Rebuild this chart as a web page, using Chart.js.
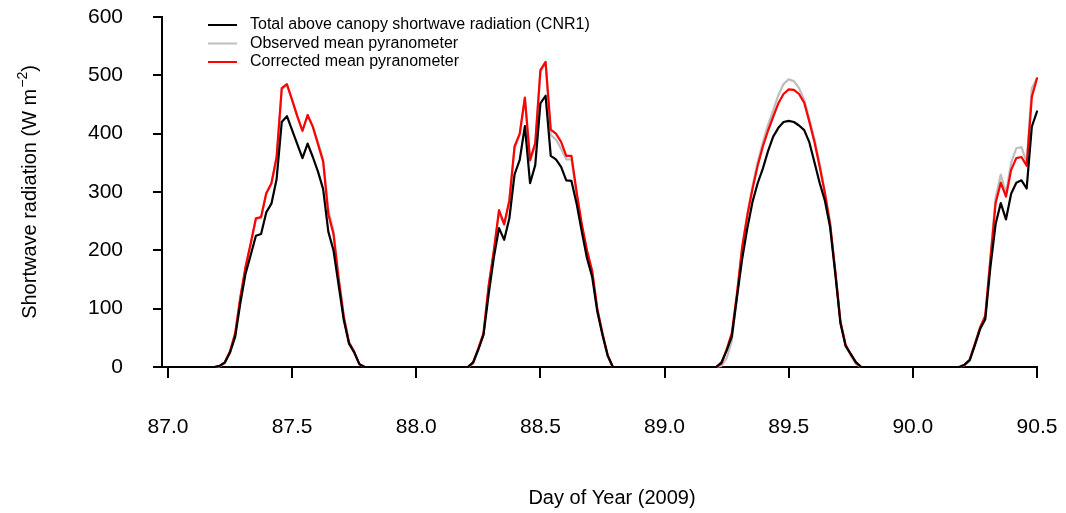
<!DOCTYPE html>
<html>
<head>
<meta charset="utf-8">
<script src="https://cdn.jsdelivr.net/npm/chart.js@4.4.1/dist/chart.umd.min.js"></script>
<style>
  html, body { margin: 0; padding: 0; background: #fff; }
  canvas { display: block; }
</style>
</head>
<body>
<canvas id="radChart" width="1066" height="513"></canvas>
<script>
const FONT = "'Liberation Sans', Arial, sans-serif";

// half-hourly shortwave radiation, W m-2, one row per day (DOY 87 .. 90.5)
const cnr1 = [
  0,0,0,0,0,0,0,0,0,0, 2,8,25,52,110,160,192,225,228,265,280,322,420,430,406,382,358,383,360,335,305,232,200,140,80,40,25,5, 0,0,0,0,0,0,0,0,0,0,
  0,0,0,0,0,0,0,0,0,0,0, 8,30,55,125,188,238,218,255,330,355,413,315,346,452,465,362,356,343,320,319,280,232,187,155,95,55,20, 0,0,0,0,0,0,0,0,0,0,
  0,0,0,0,0,0,0,0,0,0,0, 8,28,52,120,185,238,283,315,340,370,395,410,420,422,420,414,406,385,350,315,285,240,160,75,36,22,8, 0,0,0,0,0,0,0,0,0,0,
  0,0,0,0,0,0,0,0,0,0, 4,12,38,65,82,172,245,281,253,297,316,320,306,412,438
];

const pyrObserved = [
  0,0,0,0,0,0,0,0,0,0, 1,6,25,57,118,170,210,253,256,296,314,358,476,483,457,429,404,431,412,385,356,270,234,156,88,43,26,5, 0,0,0,0,0,0,0,0,0,0,
  0,0,0,0,0,0,0,0,0,0,0, 6,30,56,138,198,265,243,283,375,398,460,352,380,505,522,398,390,374,356,356,296,242,198,163,98,56,18, 0,0,0,0,0,0,0,0,0,0,
  0,0,0,0,0,0,0,0,0,0,0, 2,15,45,120,205,262,310,352,385,415,440,466,485,493,490,478,458,425,390,348,300,248,165,78,36,20,5, 0,0,0,0,0,0,0,0,0,0,
  0,0,0,0,0,0,0,0,0,0, 3,10,37,66,86,190,290,330,298,350,375,377,350,478,495
];

const pyrCorrected = [
  0,0,0,0,0,0,0,0,0,0, 2,8,27,58,120,172,212,255,257,298,315,360,478,485,458,430,405,432,412,382,352,262,228,150,85,42,26,5, 0,0,0,0,0,0,0,0,0,0,
  0,0,0,0,0,0,0,0,0,0,0, 8,32,58,140,200,269,245,286,378,400,462,355,384,509,523,407,400,386,362,362,300,245,200,165,100,58,20, 0,0,0,0,0,0,0,0,0,0,
  0,0,0,0,0,0,0,0,0,0,0, 6,30,58,126,205,260,305,345,378,405,429,452,468,476,475,468,453,420,385,343,298,245,165,78,38,22,8, 0,0,0,0,0,0,0,0,0,0,
  0,0,0,0,0,0,0,0,0,0, 4,13,40,68,88,185,281,316,292,338,358,360,345,463,495
];

// sample times: day of year, every 30 minutes from 87.0
const doy = cnr1.map((_, i) => 87 + i / 48);

const xTicks = [87.0, 87.5, 88.0, 88.5, 89.0, 89.5, 90.0, 90.5];
const yTicks = [0, 100, 200, 300, 400, 500, 600];

const seriesLabels = [
  'Total above canopy shortwave radiation (CNR1)',
  'Observed mean pyranometer',
  'Corrected mean pyranometer'
];

const toPoints = arr => arr.map((v, i) => ({ x: doy[i], y: v }));

function lineSet(label, values, color, order) {
  return {
    label: label,
    data: toPoints(values),
    borderColor: color,
    borderWidth: 2.2,
    borderJoinStyle: 'round',
    borderCapStyle: 'round',
    pointRadius: 0,
    tension: 0,
    fill: false,
    clip: false,
    order: order
  };
}

// axis titles + legend drawn the way the R plot lays them out
const rDecor = {
  id: 'rDecor',
  afterDraw(chart) {
    const ctx = chart.ctx;
    ctx.save();
    ctx.fillStyle = '#000';

    ctx.font = '20px ' + FONT;
    ctx.textAlign = 'center';
    ctx.textBaseline = 'alphabetic';
    ctx.fillText('Day of Year (2009)', 612, 504);

    // y title with superscript
    const main = 'Shortwave radiation (W m';
    const sup = '\u22122';
    const tail = ')';
    ctx.textAlign = 'left';
    ctx.font = '20px ' + FONT;
    const w1 = ctx.measureText(main).width;
    const w3 = ctx.measureText(tail).width;
    ctx.font = '14px ' + FONT;
    const w2 = ctx.measureText(sup).width;
    const total = w1 + w2 + w3 + 1;
    ctx.translate(36, 192);
    ctx.rotate(-Math.PI / 2);
    let x0 = -total / 2;
    ctx.font = '20px ' + FONT;
    ctx.fillText(main, x0, 0);
    ctx.font = '14px ' + FONT;
    ctx.fillText(sup, x0 + w1 + 1, -9);
    ctx.font = '20px ' + FONT;
    ctx.fillText(tail, x0 + w1 + w2 + 1, 0);
    ctx.setTransform(1, 0, 0, 1, 0, 0);

    // legend
    const rows = [25, 43.5, 62];
    ctx.font = '16px ' + FONT;
    ctx.textBaseline = 'middle';
    chart.data.datasets.forEach((ds, k) => {
      ctx.strokeStyle = ds.borderColor;
      ctx.lineWidth = 2;
      ctx.beginPath();
      ctx.moveTo(208, rows[k]);
      ctx.lineTo(237, rows[k]);
      ctx.stroke();
      ctx.fillStyle = '#000';
      ctx.fillText(ds.label, 250, rows[k]);
    });
    ctx.restore();
  }
};

new Chart(document.getElementById('radChart'), {
  type: 'line',
  data: {
    datasets: [
      lineSet(seriesLabels[0], cnr1, '#000000', 0),
      lineSet(seriesLabels[1], pyrObserved, '#bebebe', 2),
      lineSet(seriesLabels[2], pyrCorrected, '#ff0000', 1)
    ]
  },
  options: {
    responsive: false,
    devicePixelRatio: 1,
    animation: false,
    layout: { padding: { top: 17, right: 29, bottom: 0, left: 0 } },
    plugins: {
      legend: { display: false },
      tooltip: { enabled: false }
    },
    scales: {
      x: {
        type: 'linear',
        position: 'bottom',
        min: 86.976,
        max: 90.5,
        afterBuildTicks: scale => { scale.ticks = xTicks.map(v => ({ value: v })); },
        afterFit: scale => {
          scale.height = 146;
          scale.paddingLeft = 0;
          scale.paddingRight = 0;
        },
        ticks: {
          autoSkip: false,
          maxRotation: 0,
          padding: 37,
          color: '#000',
          font: { family: FONT, size: 21 },
          callback: v => Number(v).toFixed(1)
        },
        grid: { drawOnChartArea: false, drawTicks: true, tickLength: 11, color: '#000', lineWidth: 2 },
        border: { display: true, color: '#000', width: 2 }
      },
      y: {
        min: 0,
        max: 600,
        afterBuildTicks: scale => { scale.ticks = yTicks.map(v => ({ value: v })); },
        afterFit: scale => {
          scale.width = 162;
          scale.paddingTop = 0;
          scale.paddingBottom = 0;
        },
        ticks: {
          padding: 30,
          color: '#000',
          font: { family: FONT, size: 21 }
        },
        grid: { drawOnChartArea: false, drawTicks: true, tickLength: 9, color: '#000', lineWidth: 2 },
        border: { display: true, color: '#000', width: 2 }
      }
    }
  },
  plugins: [rDecor]
});
</script>
</body>
</html>
